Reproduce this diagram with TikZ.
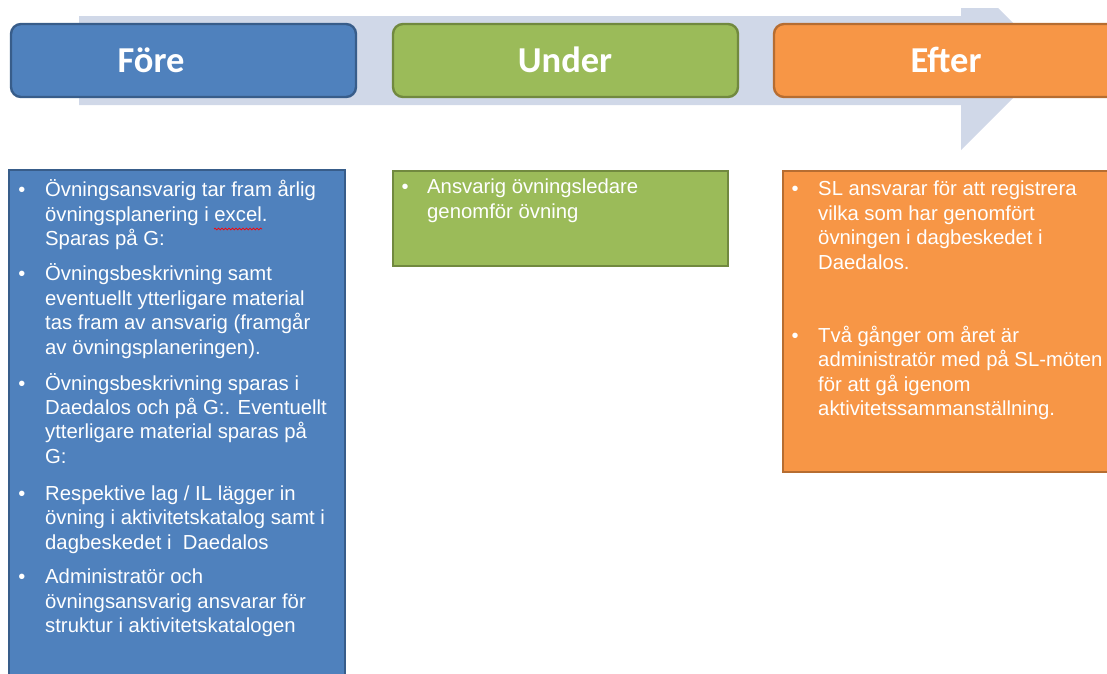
\documentclass[tikz,border=0pt]{standalone}
\usepackage{fontspec}
\setmainfont{Liberation Sans}
\newfontfamily\titlefont{Carlito}
\usetikzlibrary{decorations.pathmorphing}
\definecolor{bandc}{HTML}{D0D8E8}
\definecolor{bluef}{HTML}{4F81BD}
\definecolor{blued}{HTML}{385D8A}
\definecolor{greenf}{HTML}{9BBB59}
\definecolor{greend}{HTML}{71893F}
\definecolor{orangef}{HTML}{F79646}
\definecolor{oranged}{HTML}{B66D31}
\tikzset{
  hdr/.style={rounded corners=10pt, line width=2.4pt},
  bodybox/.style={line width=2.2pt},
  ttl/.style={anchor=base, inner sep=0pt, text=white, font=\titlefont\bfseries\fontsize{36.5}{40}\selectfont},
  txt/.style={anchor=base west, inner sep=0pt, text=white, font=\fontsize{20.3}{24.5}\selectfont},
  bul/.style={anchor=base, inner sep=0pt, text=white, font=\fontsize{20}{24.5}\selectfont},
}
\begin{document}
\begin{tikzpicture}[x=1pt,y=-1pt]
\useasboundingbox (0,0) rectangle (1107,673);
\clip (0,0) rectangle (1107,673);
% background process arrow
\fill[bandc] (79,16) -- (961,16) -- (961,8) -- (998,8) -- (1040,50) -- (1040,71) -- (961,150) -- (961,105) -- (79,105) -- cycle;
% headers
\draw[hdr, fill=bluef, draw=blued] (11,24) rectangle (356,97);
\draw[hdr, fill=greenf, draw=greend] (393,24) rectangle (738,97);
\draw[hdr, fill=orangef, draw=oranged] (774,24) rectangle (1130,97);
\node[ttl] (tfore) at (151,72) {Före};
\node[ttl] (tunder) at (565,72) {Under};
\node[ttl] (tefter) at (946,72) {Efter};
% body boxes
\draw[bodybox, fill=bluef, draw=blued] (9,170) rectangle (345,690);
\draw[bodybox, fill=greenf, draw=greend] (393,171) rectangle (728,266);
\draw[bodybox, fill=orangef, draw=oranged] (783,171) rectangle (1130,472);
% blue texts
\foreach \y [count=\i] in {196,280,390,500,583}
  \node[bul] (bb\i) at (22,\y) {•};
\foreach \y/\t [count=\i] in {
  196/{Övningsansvarig tar fram årlig},
  221/{övningsplanering i excel.},
  245/{Sparas på G:},
  280/{Övningsbeskrivning samt},
  305/{eventuellt ytterligare material},
  329/{tas fram av ansvarig (framgår},
  354/{av övningsplaneringen).},
  390/{Övningsbeskrivning sparas i},
  414/{Daedalos och på G:. Eventuellt},
  438/{ytterligare material sparas på},
  463/{G:},
  500/{Respektive lag / IL lägger in},
  524/{övning i aktivitetskatalog samt i},
  549/{dagbeskedet i\ \ Daedalos},
  583/{Administratör och},
  608/{övningsansvarig ansvarar för},
  632/{struktur i aktivitetskatalogen}}
  \node[txt] (bt\i) at (45,\y) {\t};
% spell-check underline
\draw[red, line width=0.7pt, decorate, decoration={snake, amplitude=0.9pt, segment length=3.5pt}] (214,229) -- (262,229);
% green texts
\node[bul] (gb1) at (405,193) {•};
\node[txt] (gt1) at (427,193) {Ansvarig övningsledare};
\node[txt] (gt2) at (427,218) {genomför övning};
% orange texts
\node[bul] (ob1) at (795,195) {•};
\node[bul] (ob2) at (795,342) {•};
\foreach \y/\t [count=\i] in {
  195/{SL ansvarar för att registrera},
  220/{vilka som har genomfört},
  244/{övningen i dagbeskedet i},
  269/{Daedalos.},
  342/{Två gånger om året är},
  366/{administratör med på SL-möten},
  391/{för att gå igenom},
  415/{aktivitetssammanställning.}}
  \node[txt] (ot\i) at (818,\y) {\t};
\end{tikzpicture}
\end{document}
